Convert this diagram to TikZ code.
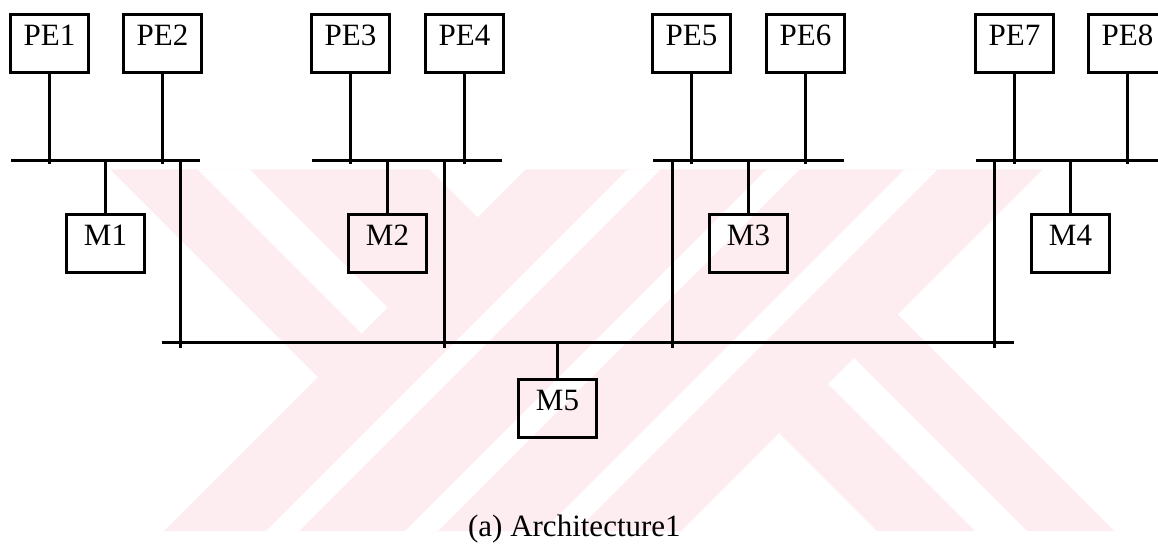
\documentclass[tikz,border=0pt]{standalone}
\usepackage{fontspec}
\setmainfont{Liberation Serif}
\definecolor{wmpink}{RGB}{253,236,240}
\begin{document}
\begin{tikzpicture}[x=1pt,y=-1pt,
  unit/.style={draw, line width=3pt, inner sep=0pt, minimum width=78pt,
    text height=31pt, text depth=27pt, anchor=north,
    font=\fontsize{31}{37}\selectfont},
  wire/.style={line width=3pt},
  wm/.style={fill=wmpink, draw=none},
  gap/.style={fill=white, draw=none}]
\useasboundingbox (0,0) rectangle (1158,546);
\clip (0,0) rectangle (1158,546);
\fill[white] (0,0) rectangle (1158,546);

% background emblem: pink bands
\fill[wm] (110.3,169.3) -- (429.3,169.3) -- (477.5,217.5) -- (318,377) -- cycle;
\fill[wm] (525.7,169.3) -- (1042.7,169.3) -- (681,531) -- (164,531) -- cycle;
\fill[wm] (779,433) -- (897.5,314.5) -- (1114,531) -- (877,531) -- cycle;
% white gaps in the emblem
\fill[gap] (197.3,169.3) -- (249.3,169.3) -- (387.5,307.5) -- (361.5,333.5) -- cycle;
\fill[gap] (627.7,169.3) -- (660.7,169.3) -- (299,531) -- (266,531) -- cycle;
\fill[gap] (766.7,169.3) -- (799.7,169.3) -- (438,531) -- (405,531) -- cycle;
\fill[gap] (904.7,169.3) -- (937.7,169.3) -- (576,531) -- (543,531) -- cycle;
\fill[gap] (828,384) -- (854,358) -- (1027,531) -- (975,531) -- cycle;

% processing elements
\node[unit] (pe1) at (49.5,12.5) {PE1};
\node[unit] (pe2) at (162.5,12.5) {PE2};
\node[unit] (pe3) at (350.5,12.5) {PE3};
\node[unit] (pe4) at (464.5,12.5) {PE4};
\node[unit] (pe5) at (691.5,12.5) {PE5};
\node[unit] (pe6) at (805.5,12.5) {PE6};
\node[unit] (pe7) at (1014.5,12.5) {PE7};
\node[unit] (pe8) at (1127.5,12.5) {PE8};

% memories
\node[unit] (m1) at (105.5,212.5) {M1};
\node[unit] (m2) at (387.5,212.5) {M2};
\node[unit] (m3) at (748.5,212.5) {M3};
\node[unit] (m4) at (1070.5,212.5) {M4};
\node[unit] (m5) at (557.5,377.5) {M5};

% bus end points
\coordinate (b1w) at (11,160.5);    \coordinate (b1e) at (200,160.5);
\coordinate (b2w) at (312,160.5);   \coordinate (b2e) at (502,160.5);
\coordinate (b3w) at (653,160.5);   \coordinate (b3e) at (843.5,160.5);
\coordinate (b4w) at (976,160.5);   \coordinate (b4e) at (1166,160.5);
\coordinate (b5w) at (161.5,342.5); \coordinate (b5e) at (1014,342.5);
% risers from the local buses to the global bus
\coordinate (r1) at (180.5,160.5);
\coordinate (r2) at (444.5,160.5);
\coordinate (r3) at (672.5,160.5);
\coordinate (r4) at (994.5,160.5);

% buses
\draw[wire] (b1w) -- (b1e);
\draw[wire] (b2w) -- (b2e);
\draw[wire] (b3w) -- (b3e);
\draw[wire] (b4w) -- (b4e);
\draw[wire] (b5w) -- (b5e);

% PE taps
\foreach \p/\b in {pe1/b1w, pe2/b1w, pe3/b2w, pe4/b2w,
                   pe5/b3w, pe6/b3w, pe7/b4w, pe8/b4w}
  \draw[wire, shorten >=-3pt] (\p.south) -- (\p.south |- \b);

% memory taps
\foreach \m/\b in {m1/b1w, m2/b2w, m3/b3w, m4/b4w, m5/b5w}
  \draw[wire] (\m.north |- \b) -- (\m.north);

% risers
\foreach \r in {r1, r2, r3, r4}
  \draw[wire, shorten >=-5pt] (\r) -- (\r |- b5w);

% caption
\node[font=\fontsize{31}{37}\selectfont, anchor=base] (cap) at (574.4,536) {(a) Architecture1};
\end{tikzpicture}
\end{document}
